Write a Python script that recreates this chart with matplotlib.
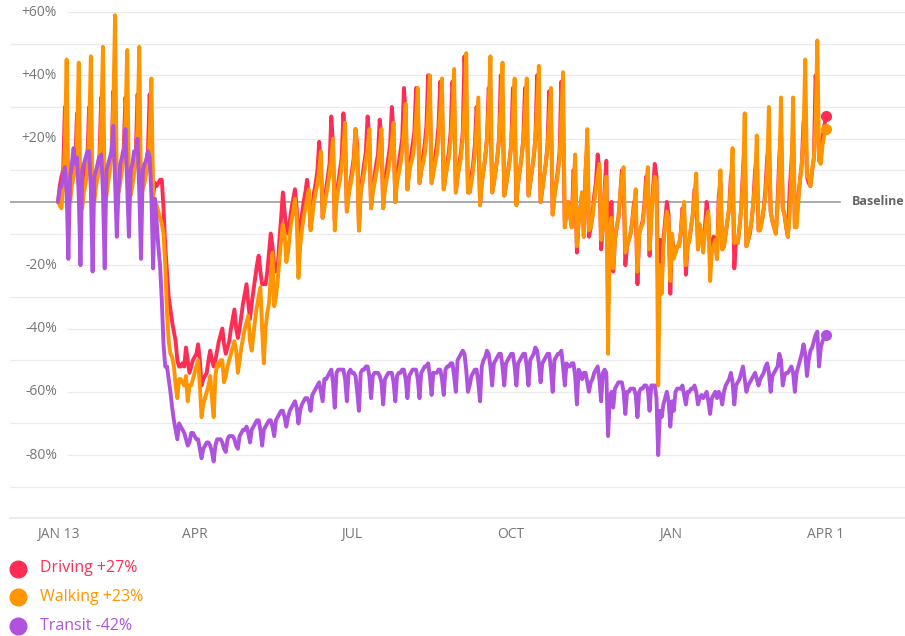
import itertools

import numpy as np
import pandas as pd
import matplotlib

matplotlib.use("Agg")
import matplotlib.pyplot as plt
import matplotlib.dates as mdates
import matplotlib.transforms as mtransforms
from matplotlib.lines import Line2D

plt.rcParams["font.family"] = ["Open Sans", "DejaVu Sans"]

START, END = "2020-01-13", "2021-04-01"

# daily % change vs. baseline, one row per week (Mon .. Sun)
driving = [
    [0, 5, 8, 10, 30, 20, 3], [5, 8, 10, 12, 28, 20, 0], [4, 8, 10, 14, 30, 22, 0],
    [4, 8, 12, 15, 33, 25, 2], [5, 9, 12, 16, 35, 28, 3], [6, 10, 14, 17, 33, 26, 2],
    [5, 10, 13, 16, 34, 24, 1], [8, 10, 13, 16, 34, 20, 2], [6, 5, 6, 7, 7, -2, -14],
    [-22, -30, -34, -38, -41, -44, -50], [-52, -52, -51, -52, -46, -50, -54],
    [-52, -50, -49, -48, -45, -50, -58], [-56, -55, -54, -50, -47, -50, -52],
    [-50, -47, -44, -42, -40, -45, -48], [-46, -44, -40, -37, -34, -40, -43],
    [-40, -36, -32, -29, -26, -32, -37], [-32, -28, -24, -20, -17, -22, -26],
    [-26, -26, -22, -16, -10, -14, -20], [-22, -21, -12, -5, 3, -3, -9],
    [-10, -6, -2, 1, 4, -2, -12], [-8, -4, 0, 3, 7, 2, -8], [-2, 3, 6, 10, 19, 12, -5],
    [0, 4, 8, 12, 27, 18, -6], [2, 6, 10, 14, 28, 20, -3], [3, 6, 10, 14, 23, 18, -9],
    [4, 8, 12, 16, 27, 20, -2], [4, 8, 12, 15, 26, 20, -2], [6, 10, 14, 18, 30, 22, 0],
    [8, 12, 16, 20, 36, 28, 4], [10, 14, 18, 22, 36, 30, 6], [10, 14, 18, 24, 40, 32, 6],
    [10, 14, 18, 24, 38, 30, 4], [8, 12, 16, 22, 38, 32, 3], [8, 12, 16, 22, 46, 34, 3],
    [3, 8, 12, 18, 30, 22, -1], [6, 10, 14, 20, 36, 30, 3], [6, 10, 14, 20, 40, 30, 2],
    [5, 9, 13, 18, 36, 28, -1], [6, 10, 14, 20, 36, 28, 2], [6, 10, 14, 20, 40, 30, 0],
    [4, 8, 12, 18, 35, 26, -4], [2, 6, 10, 16, 38, 28, -8], [-3, 0, -4, -8, 10, 8, -16],
    [-6, -2, 3, -11, 10, 18, -11], [-8, -4, 2, 6, 15, 10, -15], [-8, 4, 13, -30, -5, 0, -22],
    [-12, -8, -5, 2, 10, 6, -20], [-14, -12, -10, -6, 0, -2, -26], [-10, -8, -6, -1, 8, 6, -17],
    [-4, 4, 12, 8, -30, -12, -25], [-12, -6, 0, -4, -29, -11, -16],
    [-16, -14, -14, -10, -2, -4, -23], [-14, -12, -8, -4, 4, 2, -15],
    [-8, -10, -14, -8, 0, -5, -18], [-14, -11, -12, -18, 2, 6, -15],
    [-14, -10, -6, -2, 8, 10, -21], [-12, -13, -8, -2, 10, 18, -14],
    [-12, -10, -6, 0, 10, 14, -9], [-8, -6, -2, 4, 14, 18, -3], [-6, -8, -10, 0, 14, 22, -2],
    [-4, -8, -11, 4, 12, 22, -8], [-6, 2, 7, 12, 25, 30, 8], [6, 5, 10, 14, 40, 32, 13],
    [14, 20, 24, 27],
]
walking = [
    [0, -1, -2, 5, 18, 45, 2], [0, 5, 8, 10, 20, 44, -2], [-2, 3, 6, 10, 22, 46, 0],
    [0, 5, 8, 12, 25, 49, 1], [2, 6, 10, 15, 30, 59, 4], [3, 6, 10, 14, 25, 48, 5],
    [2, 5, 9, 13, 24, 49, 2], [4, 6, 9, 12, 20, 39, 1], [1, -1, -3, -5, -7, -10, -20],
    [-35, -44, -48, -49, -52, -58, -62], [-56, -56, -57, -58, -55, -63, -58],
    [-58, -56, -54, -52, -50, -58, -68], [-64, -62, -60, -58, -55, -62, -68],
    [-55, -51, -52, -50, -50, -57, -55], [-52, -50, -48, -46, -44, -47, -54],
    [-50, -46, -43, -40, -38, -36, -44], [-47, -42, -37, -33, -30, -27, -40],
    [-51, -40, -35, -32, -24, -16, -33], [-30, -25, -18, -12, -7, -10, -19],
    [-16, -10, -6, -3, 1, -5, -24], [-14, -9, -5, -2, 1, 4, -9], [-5, 0, 3, 6, 10, 16, -5],
    [-2, 2, 5, 9, 14, 20, -9], [0, 4, 7, 11, 17, 25, -3], [2, 5, 8, 12, 23, 15, -9],
    [3, 6, 9, 13, 17, 23, -2], [3, 6, 9, 12, 17, 23, -2], [4, 7, 10, 14, 19, 25, 0],
    [6, 9, 12, 16, 22, 31, 4], [9, 12, 14, 18, 26, 36, 6], [10, 12, 15, 20, 28, 40, 6],
    [9, 12, 15, 20, 28, 39, 4], [8, 11, 14, 19, 27, 42, 3], [8, 11, 14, 20, 30, 47, 3],
    [3, 6, 10, 15, 24, 33, -1], [6, 10, 14, 20, 30, 46, 3], [6, 10, 14, 20, 30, 44, 2],
    [5, 9, 12, 18, 27, 39, -1], [6, 10, 14, 19, 28, 39, 2], [6, 10, 14, 20, 30, 43, 0],
    [4, 8, 12, 17, 26, 36, -4], [2, 5, 9, 14, 26, 41, -8], [-3, 0, -4, -8, 4, 15, -14],
    [-6, -2, 3, -11, 8, 23, -9], [-8, -5, 0, 4, 8, 12, -12], [-8, 2, 8, -48, -10, -5, -21],
    [-12, -8, -5, 2, 8, 11, -16], [-14, -12, -10, -6, -2, 4, -22], [-10, -8, -7, -2, 5, 11, -15],
    [-5, 2, 8, 6, -58, -20, -29], [-14, -8, -3, -6, -25, -10, -18],
    [-16, -14, -14, -10, -4, 0, -20], [-14, -12, -8, -4, 2, 9, -15],
    [-7, -10, -16, -10, -5, -3, -25], [-16, -14, -12, -18, -2, 10, -15],
    [-14, -10, -6, -2, 5, 17, -13], [-12, -13, -8, -2, 6, 28, -14],
    [-12, -9, -6, 0, 6, 21, -9], [-9, -6, -2, 2, 10, 30, -3], [-6, -8, -10, -2, 10, 33, -2],
    [-4, -8, -11, -4, 8, 33, -8], [-8, 0, 7, 12, 20, 45, 8], [8, 5, 10, 14, 25, 51, 13],
    [12, 18, 21, 23],
]
transit = [
    [0, 4, 5, 8, 11, 3, -18], [8, 12, 17, 12, 14, 2, -20], [10, 12, 14, 16, 16, 4, -22],
    [8, 10, 12, 14, 15, 3, -21], [10, 12, 14, 16, 24, 6, -11], [4, 12, 14, 15, 23, 5, -11],
    [10, 12, 16, 16, 20, 3, -18], [10, 12, 13, 16, 14, 2, -21], [1, -6, -14, -20, -31, -45, -52],
    [-52, -56, -60, -65, -69, -72, -75], [-70, -71, -72, -73, -75, -77, -76],
    [-73, -73, -74, -75, -75, -78, -81], [-78, -77, -76, -76, -77, -79, -82],
    [-77, -75, -75, -75, -76, -78, -79], [-75, -74, -74, -74, -75, -77, -78],
    [-74, -73, -72, -72, -71, -73, -76], [-72, -71, -70, -69, -69, -72, -77],
    [-72, -71, -70, -69, -69, -71, -74], [-69, -68, -67, -66, -66, -68, -71],
    [-68, -66, -65, -64, -63, -65, -70], [-66, -64, -63, -62, -62, -63, -66],
    [-61, -60, -59, -58, -57, -60, -63], [-56, -56, -55, -54, -53, -57, -65],
    [-54, -53, -53, -53, -53, -56, -63], [-54, -53, -54, -54, -55, -60, -66],
    [-54, -53, -53, -52, -52, -55, -62], [-55, -54, -54, -54, -55, -57, -64],
    [-56, -55, -54, -54, -54, -57, -63], [-55, -54, -54, -53, -53, -56, -62],
    [-55, -54, -53, -53, -53, -56, -62], [-54, -53, -52, -52, -51, -55, -61],
    [-54, -54, -54, -53, -53, -56, -61], [-53, -52, -52, -51, -51, -55, -60],
    [-50, -49, -48, -47, -48, -53, -60], [-58, -55, -54, -53, -53, -57, -63],
    [-52, -50, -49, -47, -48, -52, -58], [-51, -50, -49, -48, -48, -52, -58],
    [-51, -50, -49, -48, -48, -52, -58], [-51, -50, -49, -48, -48, -52, -58],
    [-50, -49, -48, -46, -47, -51, -57], [-51, -50, -49, -48, -48, -53, -60],
    [-50, -49, -48, -48, -47, -52, -58], [-51, -52, -52, -51, -51, -55, -64],
    [-53, -54, -56, -54, -54, -57, -60], [-57, -56, -54, -53, -52, -56, -63],
    [-54, -53, -54, -74, -62, -60, -65], [-59, -58, -57, -57, -57, -60, -67],
    [-60, -60, -59, -59, -59, -61, -68], [-60, -59, -59, -58, -58, -59, -66],
    [-58, -58, -58, -62, -80, -66, -68], [-64, -62, -60, -63, -71, -63, -66],
    [-60, -59, -59, -59, -58, -61, -64], [-60, -60, -59, -59, -58, -60, -64],
    [-62, -61, -62, -61, -60, -63, -67], [-62, -61, -60, -62, -60, -61, -64],
    [-60, -58, -57, -56, -54, -57, -64], [-58, -57, -56, -54, -52, -56, -60],
    [-58, -57, -56, -55, -54, -56, -58], [-56, -55, -54, -52, -51, -54, -60],
    [-55, -54, -53, -52, -48, -50, -58], [-55, -54, -54, -53, -52, -54, -60],
    [-54, -52, -50, -48, -45, -48, -55], [-50, -47, -46, -44, -42, -41, -52],
    [-46, -44, -43, -42],
]

TICK_DATES = ["2020-01-13", "2020-04-01", "2020-07-01", "2020-10-01", "2021-01-01", "2021-04-01"]
TICK_LABELS = ["JAN 13", "APR", "JUL", "OCT", "JAN", "APR 1"]
Y_LABELS = [60, 40, 20, -20, -40, -60, -80]

RED = "#ff2d55"
ORANGE = "#ff9500"
PURPLE = "#af52de"
GRID = "#ebebeb"
TXT = "#777777"


def flat(rows):
    return np.array(list(itertools.chain.from_iterable(rows)), dtype=float)


dates = pd.date_range(START, END, freq="D")
series = [("Driving", flat(driving), RED), ("Walking", flat(walking), ORANGE),
          ("Transit", flat(transit), PURPLE)]
for _, vals, _ in series:
    assert len(vals) == len(dates)

# ── figure, pixel-matched to the 905x636 reference ───────────────────────────
W, H = 905, 636
PX_DAY = 1.7297          # horizontal pixels per day
X0 = 58                  # pixel column of the first date
fig = plt.figure(figsize=(W / 100, H / 100), dpi=100)
ax = fig.add_axes([10 / W, 1 - 518.4 / H, (W - 10) / W, 518.4 / H])

t0 = mdates.date2num(dates[0])
ax.set_xlim(t0 - (X0 - 10) / PX_DAY, t0 + (W - X0) / PX_DAY)
ax.set_ylim(-100, 63.8)
for s in ax.spines.values():
    s.set_visible(False)
ax.set_yticks([])
ax.set_xticks(mdates.date2num(pd.to_datetime(TICK_DATES)))
ax.set_xticklabels(TICK_LABELS, fontsize=10, color=TXT)
ax.tick_params(axis="x", length=0, pad=6)

# grid: labelled lines start after their label
lab_start = (68 - 10) / (W - 10)
for v in range(-90, 61, 10):
    if v == 0:
        continue
    ax.axhline(v, xmin=lab_start if v in Y_LABELS else 0, color=GRID, lw=0.9, zorder=0)
ax.axhline(-100, color=GRID, lw=1.4, zorder=0, clip_on=False)
ax.axhline(0, xmax=(840 - 10) / (W - 10), color="#9c9c9c", lw=1.2, zorder=1)

blend = mtransforms.blended_transform_factory(ax.transAxes, ax.transData)
for v in Y_LABELS:
    ax.text((57 - 10) / (W - 10), v, f"{v:+d}%", transform=blend, ha="right",
            va="center", fontsize=10, color=TXT)
ax.text((852 - 10) / (W - 10), 0, "Baseline", transform=blend, ha="left", va="center",
        fontsize=9, fontweight="bold", color="#666666")

# ── lines ────────────────────────────────────────────────────────────────────
for z, (name, vals, col) in enumerate(series):
    ax.plot(dates, vals, color=col, lw=2.8, zorder=3 + z,
            solid_joinstyle="round", solid_capstyle="round")
    ax.plot(dates[-1:], vals[-1:], "o", ms=7, color=col, zorder=7 + z)

# ── legend ───────────────────────────────────────────────────────────────────
for i, (name, vals, col) in enumerate(series):
    y = 1 - (568.5 + 28.8 * i) / H
    fig.add_artist(Line2D([18 / W], [y], marker="o", ms=12, color=col, lw=0,
                          transform=fig.transFigure))
    fig.text(40 / W, y, f"{name} {vals[-1]:+.0f}%", color=col, fontsize=11.5,
             va="center")

fig.savefig("out.png", dpi=100)
